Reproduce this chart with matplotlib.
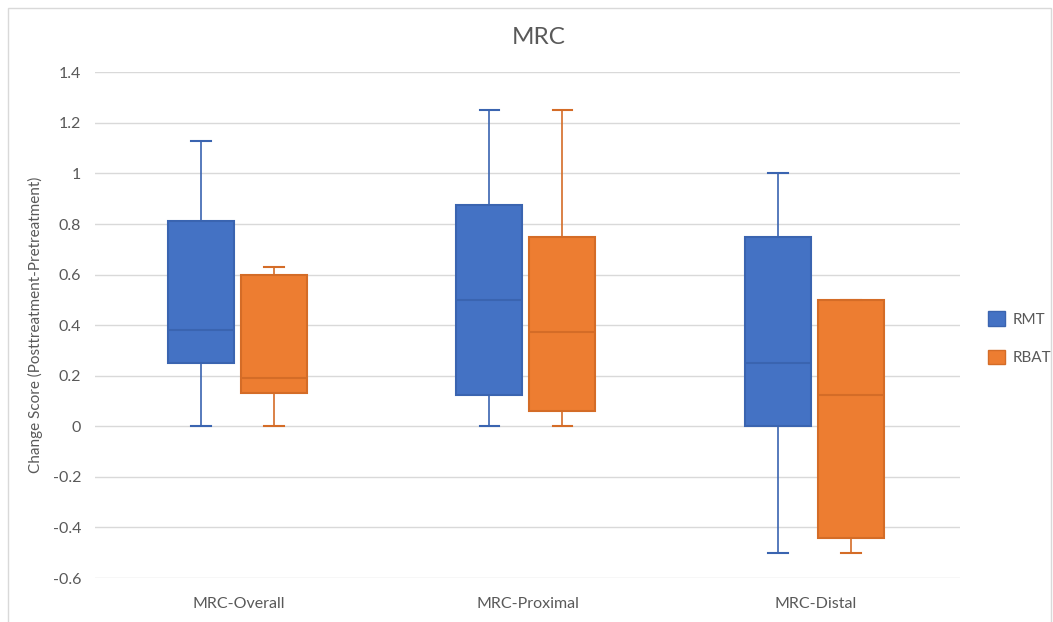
import matplotlib.pyplot as plt
from matplotlib.patches import Patch

plt.rcParams['font.family'] = ['Lato', 'DejaVu Sans']

categories = ['MRC-Overall', 'MRC-Proximal', 'MRC-Distal']
series = ['RMT', 'RBAT']
colors = ['#4472C4', '#ED7D31']
edges = ['#3A64B0', '#D46C27']

# min, q1, median, q3, max per category
rmt_min = [0.0, 0.0, -0.5]
rmt_q1 = [0.25, 0.125, 0.0]
rmt_med = [0.38, 0.5, 0.25]
rmt_q3 = [0.813, 0.875, 0.75]
rmt_max = [1.13, 1.25, 1.0]

rbat_min = [0.0, 0.0, -0.5]
rbat_q1 = [0.13, 0.0625, -0.44]
rbat_med = [0.19, 0.375, 0.125]
rbat_q3 = [0.6, 0.75, 0.5]
rbat_max = [0.63, 1.25, 0.5]

data = {
    'RMT': (rmt_min, rmt_q1, rmt_med, rmt_q3, rmt_max),
    'RBAT': (rbat_min, rbat_q1, rbat_med, rbat_q3, rbat_max),
}

fig = plt.figure(figsize=(10.53, 6.22), dpi=100)
ax = fig.add_axes([0.0902, 0.0707, 0.8215, 0.813])

# outer chart frame
fig.patches.append(plt.Rectangle((0.008, -0.01), 0.99, 0.997, transform=fig.transFigure,
                                 fill=False, edgecolor='#D9D9D9', linewidth=1))

offsets = [-0.132, 0.121]
for k, name in enumerate(series):
    mn, q1, med, q3, mx = data[name]
    stats = []
    for i in range(len(categories)):
        stats.append({'whislo': mn[i], 'q1': q1[i], 'med': med[i], 'q3': q3[i], 'whishi': mx[i]})
    pos = [i + offsets[k] for i in range(len(categories))]
    ax.bxp(stats, positions=pos, widths=0.229, showfliers=False, patch_artist=True,
           boxprops=dict(facecolor=colors[k], edgecolor=edges[k], linewidth=1.5),
           medianprops=dict(color=edges[k], linewidth=1.5),
           whiskerprops=dict(color=edges[k], linewidth=1.2),
           capprops=dict(color=edges[k], linewidth=1.5), capwidths=0.068,
           manage_ticks=False, zorder=3)

ax.set_xlim(-0.5, 2.5)
ax.set_ylim(-0.6, 1.4)
yt = [-0.6, -0.4, -0.2, 0, 0.2, 0.4, 0.6, 0.8, 1, 1.2, 1.4]
ax.set_yticks(yt)
ax.set_yticklabels(['-0.6', '-0.4', '-0.2', '0', '0.2', '0.4', '0.6', '0.8', '1', '1.2', '1.4'])
ax.set_xticks(range(len(categories)))
ax.set_xticklabels(categories)
ax.tick_params(length=0, labelsize=11.5, labelcolor='#595959')
ax.tick_params(axis='x', pad=14)
ax.tick_params(axis='y', pad=10)
ax.grid(axis='y', color='#D9D9D9', linewidth=1, zorder=0)
ax.set_axisbelow(True)
for s in ax.spines.values():
    s.set_visible(False)

ax.set_ylabel('Change Score (Posttreatment-Pretreatment)', fontsize=11, color='#595959', labelpad=7)
fig.text(0.512, 0.94, 'MRC', ha='center', va='center', fontsize=17.5, color='#595959')

handles = [Patch(facecolor=colors[k], edgecolor=edges[k], label=series[k]) for k in range(2)]
fig.legend(handles=handles, loc='center left', bbox_to_anchor=(0.925, 0.456), frameon=False,
           fontsize=11, labelcolor='#595959', handlelength=1.1, handleheight=1.1,
           labelspacing=1.5, handletextpad=0.5)

fig.savefig('out.png', dpi=100)
